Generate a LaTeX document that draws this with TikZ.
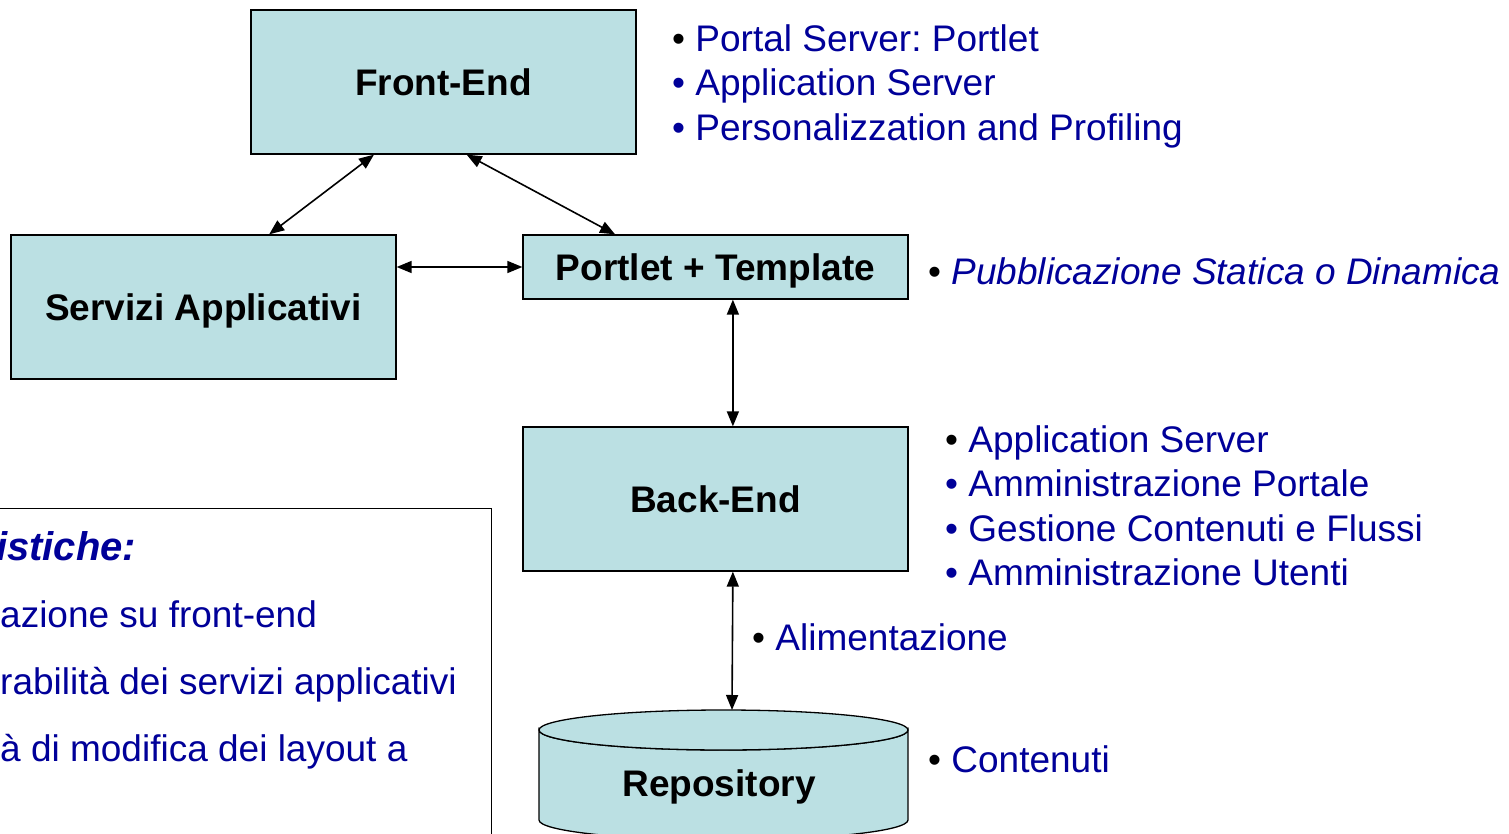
\documentclass[tikz,border=0pt]{standalone}
\usepackage{fontspec}
\setmainfont{Liberation Sans}
\frenchspacing
\usetikzlibrary{arrows.meta,calc,positioning}

\definecolor{boxfill}{RGB}{187,224,227}
\definecolor{notetext}{RGB}{0,0,153}

\tikzset{
	block/.style={rectangle,draw,line width=1.3pt,fill=boxfill,minimum width=385pt,inner sep=0pt,
		text height=27pt,text depth=0pt,font=\fontsize{37}{44}\selectfont\bfseries},
	link/.style={line width=1.6pt,{Triangle[length=15pt,width=12pt]}-{Triangle[length=15pt,width=12pt]}},
	notes/.style={align=left,inner sep=0pt,text=notetext,font=\fontsize{37}{44.5}\selectfont},
	notebox/.style={rectangle,draw,line width=1.3pt,fill=white},
}

\begin{document}
\begin{tikzpicture}[x=1pt,y=-1pt]
	\useasboundingbox (0,0) rectangle (1509,834);

	\node (front end) [block,minimum height=144pt] at (443.5,82) {Front-End};
	\node (servizi)   [block,minimum height=144pt] at (203.5,307) {Servizi Applicativi};
	\node (portlet)   [block,minimum height=64pt]  at (715.5,267) {Portlet + Template};
	\node (back end)  [block,minimum height=144pt] at (715.5,499) {Back-End};

	\filldraw[line width=1.3pt,fill=boxfill] (539,730) -- (539,820)
		arc[start angle=180,end angle=0,x radius=184.5,y radius=20] -- (908,730)
		arc[start angle=0,end angle=180,x radius=184.5,y radius=20] -- cycle;
	\filldraw[line width=1.3pt,fill=boxfill] (723.5,730) ellipse[x radius=184.5,y radius=20];
	\coordinate (repo top) at (732,710);
	\node (repo) [text height=27pt,text depth=0pt,font=\fontsize{37}{44}\selectfont\bfseries] at (719,783) {Repository};

	\node (features) [notebox,anchor=north east,minimum width=520pt,minimum height=360pt] at (492,508) {};
	\node (feat title) [anchor=base west,inner sep=0pt,text=notetext,font=\fontsize{40}{48}\selectfont\bfseries\itshape] at (-4,560) {istiche:};
	\node (feat list) [notes,anchor=north west,font=\fontsize{37}{67}\selectfont] at (0,600) {azione su front-end\\
		rabilità dei servizi applicativi\\
		à di modifica dei layout a};

	\node (fe notes) [notes,anchor=north west] at (672,24) {{\color{black}•} Portal Server: Portlet\\
		• Application Server\\
		• Personalizzation and Profiling};
	\node (portlet notes) [notes,anchor=north west,font=\fontsize{37}{44.5}\selectfont\itshape] at (928,257) {{\color{black}\upshape•} Pubblicazione Statica o Dinamica};
	\node (be notes) [notes,anchor=north west] at (945,425) {{\color{black}•} Application Server\\
		• Amministrazione Portale\\
		• Gestione Contenuti e Flussi\\
		• Amministrazione Utenti};
	\node (feed note) [notes,anchor=north west] at (752,623) {{\color{black}•} Alimentazione};
	\node (repo note) [notes,anchor=north west] at (928,745) {{\color{black}•} Contenuti};

	\draw[link] ($(front end.south west)!0.32!(front end.south east)$) -- ($(servizi.north west)!0.67!(servizi.north east)$);
	\draw[link] ($(front end.south west)!0.56!(front end.south east)$) -- ($(portlet.north west)!0.24!(portlet.north east)$);
	\draw[link] (servizi.east |- portlet.west) -- (portlet.west);
	\draw[link] ($(portlet.south west)!0.545!(portlet.south east)$) -- ($(back end.north west)!0.545!(back end.north east)$);
	\draw[link] ($(back end.south west)!0.545!(back end.south east)$) -- (repo top);

\end{tikzpicture}
\end{document}
